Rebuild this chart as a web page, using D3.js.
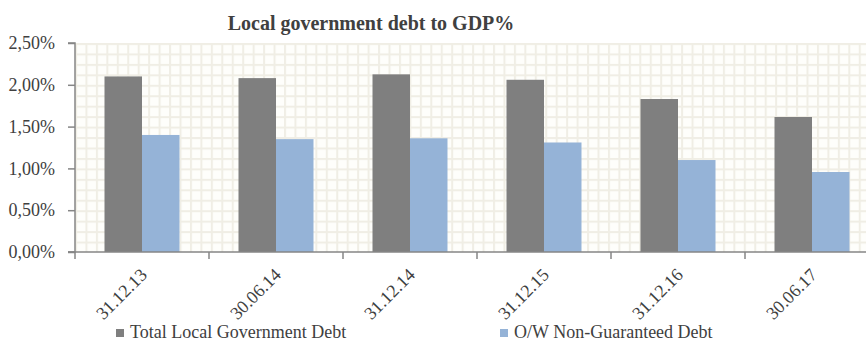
<!DOCTYPE html>
<html><head><meta charset="utf-8">
<script src="https://cdn.jsdelivr.net/npm/d3@7"></script>
<style>body{margin:0;background:#fff}svg{display:block}</style>
</head><body><svg id="c" width="866" height="342" font-family="Liberation Serif"></svg>
<script>
const categories = ["31.12.13","30.06.14","31.12.14","31.12.15","31.12.16","30.06.17"];
const totalDebt = [2.10, 2.08, 2.125, 2.06, 1.83, 1.615];
const nonGuaranteed = [1.40, 1.35, 1.36, 1.31, 1.10, 0.957];
const seriesNames = ["Total Local Government Debt","O/W Non-Guaranteed Debt"];
const colors = ["#7f7f7f","#95b3d7"];
const yTicks = [0,0.5,1,1.5,2,2.5];

(function(){
const FONT = "Liberation Serif";
const svg = d3.select("#c");
const pL = 75, pR = 879, pT = 43, pB = 252;
const x = d3.scaleBand().domain(categories).range([pL,pR]).paddingInner(0).paddingOuter(0);
const y = d3.scaleLinear().domain([0,2.5]).range([pB,pT]);

const defs = svg.append("defs");
const cell = (pB-pT)/20;
const pat = defs.append("pattern").attr("id","grid").attr("patternUnits","userSpaceOnUse")
  .attr("x",pL).attr("y",pT).attr("width",cell).attr("height",cell);
pat.append("rect").attr("width",cell).attr("height",cell).attr("fill","#fefefb");
pat.append("rect").attr("width",cell).attr("height",2).attr("fill","#f0eee5");
pat.append("rect").attr("width",2).attr("height",cell).attr("fill","#f0eee5");
svg.append("rect").attr("x",pL).attr("y",pT).attr("width",pR-pL).attr("height",pB-pT).attr("fill","url(#grid)");

svg.append("text").attr("x",371).attr("y",30).attr("text-anchor","middle")
  .attr("font-family",FONT).attr("fill","#404040")
  .attr("font-weight","bold").attr("font-size",20).text("Local government debt to GDP%");

const bw = 37.5;
const g = svg.append("g");
categories.forEach((c,i)=>{
  const cx = x(c)+x.bandwidth()/2;
  g.append("rect").attr("x",cx-bw).attr("y",y(totalDebt[i])).attr("width",bw).attr("height",y(0)-y(totalDebt[i])).attr("fill",colors[0]);
  g.append("rect").attr("x",cx).attr("y",y(nonGuaranteed[i])).attr("width",bw).attr("height",y(0)-y(nonGuaranteed[i])).attr("fill",colors[1]);
});

const ya = svg.append("g").attr("transform",`translate(${pL},0)`)
  .call(d3.axisLeft(y).tickValues(yTicks).tickSize(7).tickPadding(13)
    .tickFormat(d=>d3.format(".2f")(d).replace(".",",")+"%"));
ya.attr("font-family",FONT).attr("font-size",18);
ya.selectAll("text").attr("fill","#404040");
ya.selectAll("line,path").attr("stroke","#868686").attr("stroke-width",1.5);
ya.select(".domain").attr("d",`M-7,${pT}H0V${pB}H-7`);

const xa = svg.append("g").attr("transform",`translate(0,${pB})`);
xa.append("line").attr("x1",pL-7).attr("x2",pR).attr("stroke","#868686").attr("stroke-width",1.5);
const bounds = categories.map(c=>x(c)).concat([pR]);
xa.selectAll(".tk").data(bounds).enter().append("line")
  .attr("x1",d=>d).attr("x2",d=>d).attr("y1",0).attr("y2",7).attr("stroke","#868686").attr("stroke-width",1.5);
xa.selectAll(".lb").data(categories).enter().append("text")
  .attr("transform",d=>`translate(${x(d)+x.bandwidth()/2+6},${24}) rotate(-45)`)
  .attr("text-anchor","end")
  .attr("font-family",FONT).attr("font-size",18).attr("fill","#404040").text(d=>d);

const lg = svg.append("g");
[[116,130],[500,514]].forEach((p,i)=>{
  lg.append("rect").attr("x",p[0]).attr("y",329).attr("width",8).attr("height",8).attr("fill",colors[i]);
  lg.append("text").attr("x",p[1]).attr("y",338).attr("font-family",FONT).attr("font-size",18).attr("fill","#404040").text(seriesNames[i]);
});
})();
</script></body></html>
